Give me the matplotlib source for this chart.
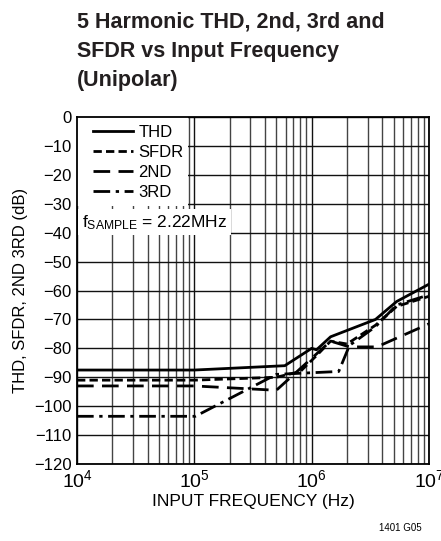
import matplotlib
matplotlib.use('Agg')
import matplotlib.pyplot as plt
from matplotlib import font_manager
from matplotlib.patches import Rectangle
from matplotlib.ticker import LogLocator, FixedLocator, NullFormatter

# pick a narrow font if there is one
names = {f.name for f in font_manager.fontManager.ttflist}
FONT = 'Liberation Sans Narrow' if 'Liberation Sans Narrow' in names else 'Liberation Sans'
plt.rcParams['font.family'] = [FONT, 'DejaVu Sans']
plt.rcParams['mathtext.fontset'] = 'custom'
plt.rcParams['mathtext.rm'] = FONT
plt.rcParams['mathtext.it'] = FONT
plt.rcParams['mathtext.bf'] = FONT + ':bold'

# data
thd_f = [1e4, 1e5, 5.9e5, 1.0e6, 1.1e6, 1.45e6, 3.5e6, 5.3e6, 1e7]
thd_db = [-87.5, -87.5, -86.0, -80.0, -80.5, -76.0, -70.0, -63.8, -57.8]

sfdr_f = [1e4, 1e5, 5.0e5, 8.0e5, 1.1e6, 1.45e6, 2.0e6, 3.5e6, 5.3e6, 1e7]
sfdr_db = [-91.0, -91.0, -90.0, -88.0, -82.5, -77.5, -78.5, -72.0, -65.5, -62.0]

h2_f = [1e4, 1e5, 5.0e5, 1.45e6, 2.1e6, 3.6e6, 1e7]
h2_db = [-93.0, -93.0, -94.5, -77.5, -79.5, -79.5, -71.5]

h3_f = [1e4, 1.02e5, 5.0e5, 1.7e6, 2.1e6, 3.5e6, 5.3e6, 1e7]
h3_db = [-103.5, -103.5, -89.0, -88.0, -79.0, -72.5, -65.0, -61.5]

yticks = list(range(0, -130, -10))

fig = plt.figure(figsize=(4.41, 5.41), dpi=100)
ax = fig.add_axes([0.1746, 0.1423, 0.7982, 0.6414])

ax.plot(thd_f, thd_db, color='black', lw=2.0, label='THD', zorder=3)
ax.plot(sfdr_f, sfdr_db, color='black', lw=2.0, dashes=(3, 1.5), label='SFDR', zorder=3)
ax.plot(h2_f, h2_db, color='black', lw=2.0, dashes=(6, 3), label='2ND', zorder=3)
ax.plot(h3_f, h3_db, color='black', lw=2.0, dashes=(6, 2, 1.2, 2), label='3RD', zorder=3)

ax.set_xscale('log')
ax.set_xlim(1e4, 1e7)
ax.set_ylim(-120, 0)
ax.xaxis.set_major_locator(FixedLocator([1e4, 1e5, 1e6, 1e7]))
ax.xaxis.set_minor_locator(LogLocator(base=10, subs=range(2, 10)))
ax.xaxis.set_minor_formatter(NullFormatter())
ax.set_xticks([1e4, 1e5, 1e6, 1e7])
ax.set_xticklabels([r'$10^4$', r'$10^5$', r'$10^6$', r'$10^7$'], fontsize=14)
ax.set_yticks(yticks)
ax.set_yticklabels([str(v).replace('-', '\u2212') for v in yticks], fontsize=12)
ax.tick_params(which='both', length=0, pad=4)
ax.grid(which='major', color='#111111', lw=1.0)
ax.grid(which='minor', axis='x', color='#444444', lw=1.0)
ax.set_axisbelow(True)
for s in ax.spines.values():
    s.set_linewidth(1.3)
    s.set_zorder(6)

# white patch behind the legend / fsample note, like the datasheet
ax.add_patch(Rectangle((0, 0.745), 0.315, 0.255, transform=ax.transAxes,
                       facecolor='white', edgecolor='none', zorder=2))

ax.set_xlabel('INPUT FREQUENCY (Hz)', fontsize=12.5, labelpad=2)
ax.set_ylabel('THD, SFDR, 2ND 3RD (dB)', fontsize=12, labelpad=4)

leg = ax.legend(loc='upper left', bbox_to_anchor=(0.025, 1.0), frameon=False, fontsize=12,
                handlelength=2.4, handletextpad=0.3, borderaxespad=0.05, labelspacing=0.3,
                borderpad=0.4)
leg.set_zorder(5)

ax.text(0.014, 0.697, r'f$_{\mathrm{SAMPLE}}$ = 2.22MHz', transform=ax.transAxes,
        fontsize=12.5, va='center', ha='left', zorder=5,
        bbox=dict(facecolor='white', edgecolor='none', pad=2.5))

fig.text(0.175, 0.978, '5 Harmonic THD, 2nd, 3rd and\nSFDR vs Input Frequency\n(Unipolar)',
         fontsize=15.5, fontweight='bold', va='top', ha='left', color='#231f20',
         linespacing=1.5)
fig.text(0.955, 0.015, '1401 G05', fontsize=7, ha='right', va='bottom')

fig.savefig('out.png', dpi=100)
